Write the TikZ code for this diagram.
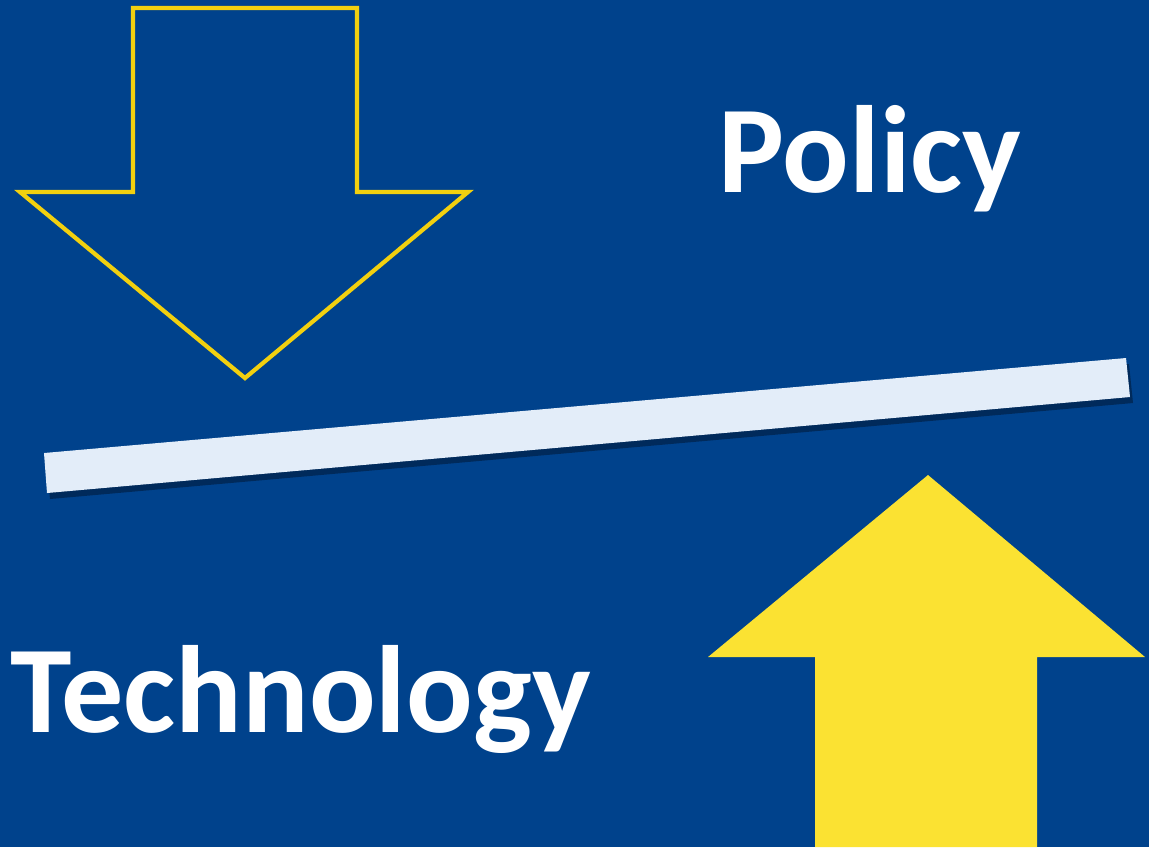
\documentclass[tikz,border=0pt]{standalone}
\usepackage{fontspec}
\setmainfont{Carlito}
\usepackage{tikz}
\usetikzlibrary{positioning,calc}

\definecolor{bgblue}{HTML}{00428C}
\definecolor{arrowyellow}{HTML}{FBE232}
\definecolor{edgeyellow}{HTML}{F2D00F}
\definecolor{barwhite}{HTML}{E3EDF9}

\begin{document}
\begin{tikzpicture}[x=0.01cm,y=-0.01cm,
			word/.style={text=white,font=\fontsize{35.3}{42}\selectfont\bfseries,inner sep=0pt,anchor=base west},
			outlinearrow/.style={draw=edgeyellow,line width=1.2pt,line join=miter},
			fullarrow/.style={fill=arrowyellow,draw=none}]
		\useasboundingbox (0,0) rectangle (1149,847);
		\fill [bgblue] (0,0) rectangle (1149,847);
		% down arrow (outline only)
		\draw [outlinearrow] (133,8) -- (357,8) -- (357,192) -- (468,192) -- (245,378)
		      -- (20,192) -- (133,192) -- cycle;
		% up arrow (filled)
		\fill [fullarrow] (928,475) -- (1145,657) -- (1037,657) -- (1037,847)
		      -- (815,847) -- (815,657) -- (708,657) -- cycle;
		% tilted bar with shadow
		\fill [black,opacity=0.35] (46,459) -- (1129,364) -- (1133,403) -- (50,499) -- cycle;
		\fill [barwhite] (44,453) -- (1126,358) -- (1130,397) -- (47,493) -- cycle;
		% labels
		\node (policy) [word] at (718,192) {Policy};
		\node (tech) [word] at (10,732) {Technology};
	\end{tikzpicture}
\end{document}
